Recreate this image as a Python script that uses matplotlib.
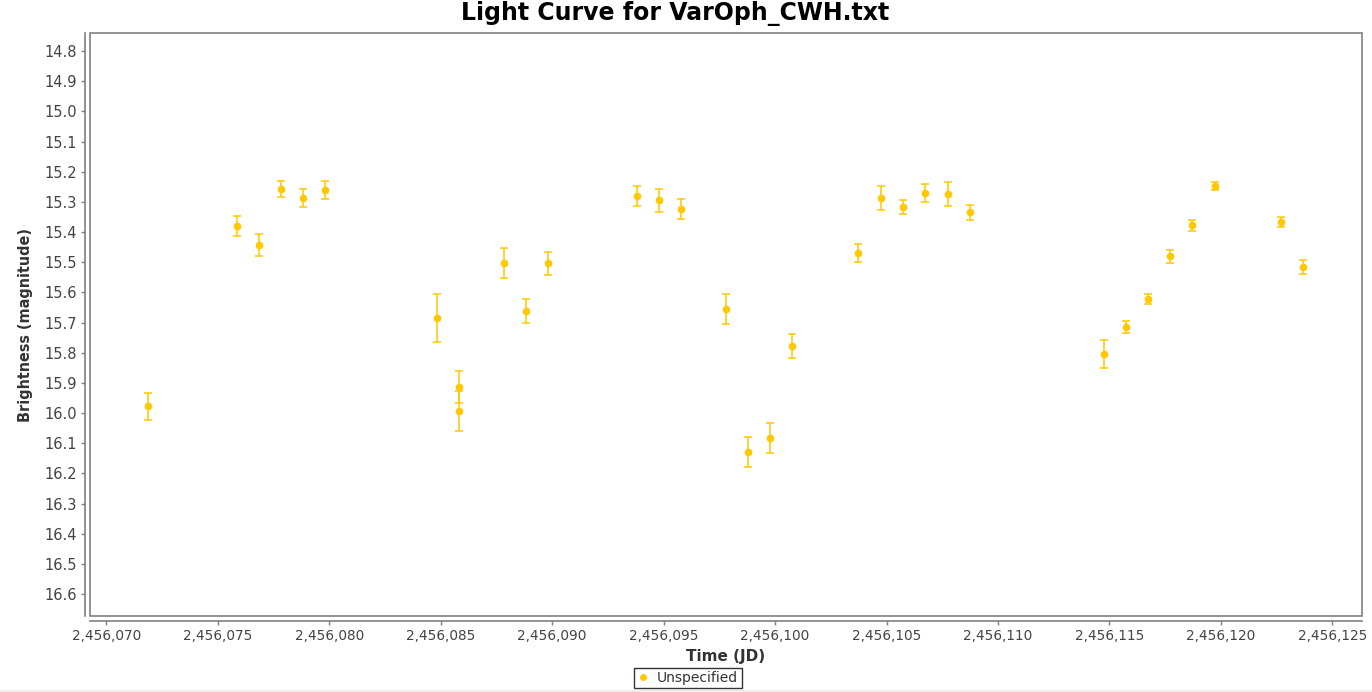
import numpy as np
import matplotlib.pyplot as plt
from matplotlib.ticker import FuncFormatter, FormatStrFormatter, MultipleLocator
from matplotlib.patches import Rectangle
from matplotlib.lines import Line2D

#%% Data
jd = [2456071.87, 2456075.86, 2456076.85, 2456077.84, 2456078.82, 2456079.81,
      2456084.84, 2456085.83, 2456085.83, 2456087.84, 2456088.83, 2456089.81,
      2456093.81, 2456094.79, 2456095.78, 2456097.80, 2456098.79, 2456099.78,
      2456100.76, 2456103.72, 2456104.76, 2456105.75, 2456106.73, 2456107.76,
      2456108.75, 2456114.76, 2456115.75, 2456116.74, 2456117.72, 2456118.71,
      2456119.74, 2456122.70, 2456123.69]
mag = [15.977, 15.380, 15.443, 15.257, 15.287, 15.261,
       15.685, 15.914, 15.993, 15.503, 15.662, 15.503,
       15.280, 15.294, 15.324, 15.655, 16.129, 16.083,
       15.778, 15.470, 15.287, 15.317, 15.270, 15.274,
       15.334, 15.804, 15.715, 15.622, 15.480, 15.377,
       15.247, 15.367, 15.516]
err = [0.045, 0.033, 0.037, 0.027, 0.030, 0.030,
       0.080, 0.053, 0.065, 0.050, 0.040, 0.038,
       0.032, 0.038, 0.033, 0.050, 0.050, 0.050,
       0.040, 0.030, 0.040, 0.023, 0.030, 0.040,
       0.025, 0.047, 0.020, 0.017, 0.022, 0.018,
       0.013, 0.017, 0.022]

gold = '#FFC800'
grey = '#808080'
txt = '#444444'

#%% Plot
fig = plt.figure(figsize=(13.72, 6.92), dpi=100)
fig.patch.set_facecolor('white')
ax = fig.add_axes([90/1372, 1-616/692, 1272/1372, 583/692])

ax.errorbar(jd, mag, yerr=err, fmt='o', color=gold, ecolor=gold,
            markersize=4.5, elinewidth=1.1, capsize=3, capthick=1.1,
            label='Unspecified')

ax.set_xlim(2456069.27, 2456126.33)
ax.set_ylim(16.673, 14.74)

ax.xaxis.set_major_locator(MultipleLocator(5))
ax.xaxis.set_major_formatter(FuncFormatter(lambda v, p: '{:,.0f}'.format(v)))
ax.yaxis.set_major_locator(MultipleLocator(0.1))
ax.yaxis.set_major_formatter(FormatStrFormatter('%.1f'))

# frame around data area, axis lines slightly offset outside
ax.add_patch(Rectangle((0, 0), 1, 1, transform=ax.transAxes, fill=False,
                       edgecolor=grey, linewidth=1.2, clip_on=False, zorder=5))
for s in ['top', 'right']:
    ax.spines[s].set_visible(False)
for s in ['left', 'bottom']:
    ax.spines[s].set_color(grey)
    ax.spines[s].set_linewidth(1.2)
    ax.spines[s].set_position(('outward', 3.5))

ax.tick_params(axis='both', colors=grey, length=3, width=1,
               labelcolor=txt, pad=3)
ax.tick_params(axis='y', labelsize=10.5)
ax.tick_params(axis='x', labelsize=9.8)

ax.set_xlabel('Time (JD)', fontsize=11, fontweight='bold', color='#333333',
              labelpad=4)
ax.set_ylabel('Brightness (magnitude)', fontsize=11.5, fontweight='bold',
              fontstretch='condensed', color='#333333', labelpad=8)

fig.text(675/1372, 1-20/692, 'Light Curve for VarOph_CWH.txt', ha='center',
         va='baseline', fontsize=17, fontweight='bold', color='black')

handle = Line2D([], [], marker='o', color=gold, linestyle='', markersize=4)
leg = fig.legend([handle], ['Unspecified'], loc='center',
                 bbox_to_anchor=(688/1372, 1-678/692), fontsize=10,
                 frameon=True, fancybox=False, handlelength=0.8,
                 handletextpad=0.6, borderpad=0.25, borderaxespad=0)
leg.get_frame().set_edgecolor('black')
leg.get_frame().set_linewidth(1)
for t in leg.get_texts():
    t.set_color('#333333')

# light grey strip along bottom edge
fig.patches.append(Rectangle((0, 0), 1, 2/692, transform=fig.transFigure,
                             facecolor='#EEEEEE', edgecolor='none'))

fig.savefig('out.png', dpi=100)
